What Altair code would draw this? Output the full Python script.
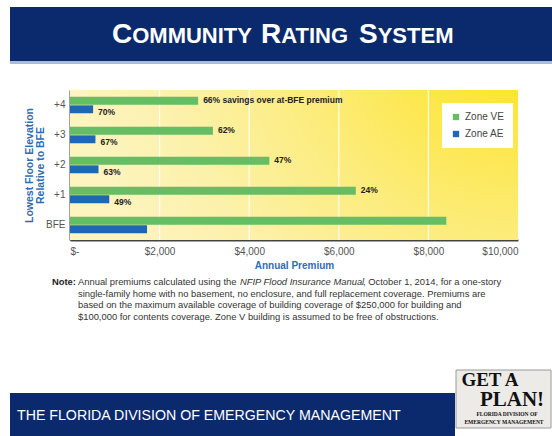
import altair as alt
import pandas as pd

# ---------------- data ----------------
categories = ["+4", "+3", "+2", "+1", "BFE"]
zone_ve = [2860, 3190, 4450, 6380, 8400]
zone_ae = [516, 568, 636, 877, 1720]
ve_labels = ["66% savings over at-BFE premium", "62%", "47%", "24%", ""]
ae_labels = ["70%", "67%", "63%", "49%", ""]
series = ["Zone VE", "Zone AE"]
x_ticks = [0, 2000, 4000, 6000, 8000, 10000]
grid_values = [2000, 4000, 6000, 8000]

rows = []
for i, c in enumerate(categories):
    rows.append({"cat": c, "zone": "Zone VE", "value": zone_ve[i], "label": ve_labels[i]})
    rows.append({"cat": c, "zone": "Zone AE", "value": zone_ae[i], "label": ae_labels[i]})
df = pd.DataFrame(rows)

# ---------------- layout ----------------
W, H = 448, 150
LEFT, TOP = 70, 90
NAVY = "#0b2a6e"
BLUE_T = "#2f6db3"
GREEN = "#66bd63"
BLUE = "#1d67b3"
FONT = "Liberation Sans"

one = pd.DataFrame({"k": [0]})

xscale = alt.Scale(domain=[0, 10000], nice=False, zero=True)
yscale = alt.Scale(domain=categories, paddingInner=0.45, paddingOuter=0.225)
yoff_scale = alt.Scale(domain=series, paddingInner=0.08)

x_axis = alt.Axis(
    values=x_ticks,
    labelExpr="datum.value == 0 ? '$-' : '$' + format(datum.value, ',')",
    title="Annual Premium", grid=False, ticks=False,
    domainColor="#444", domainWidth=2,
    labelColor="#555", labelFontSize=10, labelFont=FONT, labelPadding=6,
    titleColor=BLUE_T, titleFont=FONT, titleFontWeight="bold",
    titleFontSize=10, titlePadding=4)
y_axis = alt.Axis(
    title=["Lowest Floor Elevation", "Relative to BFE"],
    ticks=False, domainColor="#444", domainWidth=2,
    labelColor="#555", labelFontSize=10, labelFont=FONT, labelPadding=5,
    titleColor=BLUE_T, titleFont=FONT, titleFontWeight="bold",
    titleFontSize=10.5, titlePadding=0, titleLineHeight=11)


def rect(x1, y1, x2, y2, fill, stroke=None):
    kw = {"fill": fill}
    if stroke:
        kw["stroke"] = stroke
        kw["strokeWidth"] = 1
    return alt.Chart(one).mark_rect(**kw).encode(
        x=alt.value(x1 - LEFT), x2=alt.value(x2 - LEFT),
        y=alt.value(y1 - TOP), y2=alt.value(y2 - TOP))


def txt(s, x, y, size, color="#333", weight="normal", align="left",
        font=FONT, style="normal", baseline="alphabetic"):
    return alt.Chart(one).mark_text(
        text=s, fontSize=size, color=color, fontWeight=weight, align=align,
        font=font, fontStyle=style, baseline=baseline).encode(
        x=alt.value(x - LEFT), y=alt.value(y - TOP))


# plot background gradient
bg = alt.Chart(one).mark_rect(
    clip=True,
    fill=alt.RadialGradient(
        gradient="radial",
        stops=[alt.GradientStop(color="#fde300", offset=0),
               alt.GradientStop(color="#fde640", offset=0.22),
               alt.GradientStop(color="#fcec7c", offset=0.5),
               alt.GradientStop(color="#fcf1aa", offset=0.78),
               alt.GradientStop(color="#fdf4c0", offset=1)],
        x1=1, y1=0, r1=0, x2=1, y2=0, r2=1)
).encode(x=alt.value(0), x2=alt.value(W), y=alt.value(0), y2=alt.value(2 * H))

grid = alt.Chart(pd.DataFrame({"value": grid_values})).mark_rule(
    color="white", strokeWidth=1.2, opacity=0.9
).encode(x=alt.X("value:Q", scale=xscale, axis=x_axis))

bars = alt.Chart(df).mark_bar().encode(
    x=alt.X("value:Q", scale=xscale, axis=x_axis),
    y=alt.Y("cat:N", scale=yscale, axis=y_axis),
    yOffset=alt.YOffset("zone:N", scale=yoff_scale),
    color=alt.Color("zone:N", scale=alt.Scale(domain=series, range=[GREEN, BLUE]),
                    legend=alt.Legend(
                        title=None, orient="none", legendX=372, legendY=13,
                        fillColor="white", padding=9, symbolType="square",
                        symbolSize=40, symbolStrokeWidth=0,
                        labelFontSize=10, labelFont=FONT, labelColor="#444",
                        rowPadding=7)),
)


def bar_text(zone, dy):
    return alt.Chart(df).transform_filter(f"datum.zone == '{zone}'").mark_text(
        align="left", baseline="middle", dx=5, dy=dy, font=FONT, fontSize=8.5,
        fontWeight="bold", color="#222"
    ).encode(x=alt.X("value:Q", scale=xscale, axis=x_axis),
             y=alt.Y("cat:N", scale=yscale, axis=y_axis),
             yOffset=alt.YOffset("zone:N", scale=yoff_scale),
             text="label:N")


ve_text = bar_text("Zone VE", -1)
ae_text = bar_text("Zone AE", 3)

# ---------------- decorations ----------------
TY = 43
deco = [
    rect(10, 7, 552, 61, NAVY),
    rect(10, 61, 552, 64, "#a9bcdc"),
    # title in small caps
    txt("C", 112, TY, 28, "white", "bold"),
    txt("OMMUNITY", 112 + 20.2, TY, 22, "white", "bold"),
    txt("R", 261, TY, 28, "white", "bold"),
    txt("ATING", 261 + 20.2, TY, 22, "white", "bold"),
    txt("S", 359, TY, 28, "white", "bold"),
    txt("YSTEM", 359 + 18.7, TY, 22, "white", "bold"),
    # note
    txt("Note:", 52, 285, 9.4, "#222", "bold"),
    txt("Annual premiums calculated using the", 78, 285, 9.4, "#333"),
    txt("NFIP Flood Insurance Manual", 240, 285, 9.4, "#333", style="italic"),
    txt(", October 1, 2014, for a one-story", 363, 285, 9.4, "#333"),
    txt("single-family home with no basement, no enclosure, and full replacement coverage. Premiums are",
        78, 296.5, 9.4, "#333"),
    txt("based on the maximum available coverage of building coverage of $250,000 for building and",
        78, 308, 9.4, "#333"),
    txt("$100,000 for contents coverage. Zone V building is assumed to be free of obstructions.",
        78, 319.5, 9.4, "#333"),
    # bottom banner
    rect(10, 393, 455, 436, NAVY),
    txt("THE FLORIDA DIVISION OF EMERGENCY MANAGEMENT", 17, 420, 14.2, "white"),
    # logo
    rect(456, 370, 551, 428, "#ecebe8", "#9a9a9a"),
    txt("GET A", 490, 386, 19, "#111", "bold", "center", "Liberation Serif"),
    txt("PLAN!", 512, 406, 21, "#111", "bold", "center", "Liberation Serif"),
    txt("FLORIDA DIVISION OF", 507, 416, 5.5, "#111", "bold", "center", "Liberation Serif"),
    txt("EMERGENCY MANAGEMENT", 504, 424, 5.5, "#111", "bold", "center", "Liberation Serif"),
]

chart = alt.layer(bg, grid, bars, ve_text, ae_text, *deco).properties(
    width=W, height=H,
    autosize=alt.AutoSizeParams(type="none"),
    padding={"left": LEFT, "top": TOP, "right": 552 - LEFT - W, "bottom": 436 - TOP - H},
    background="white",
).configure_view(stroke=None)

chart.save("out.html", embed_options={"renderer": "svg", "actions": False})
